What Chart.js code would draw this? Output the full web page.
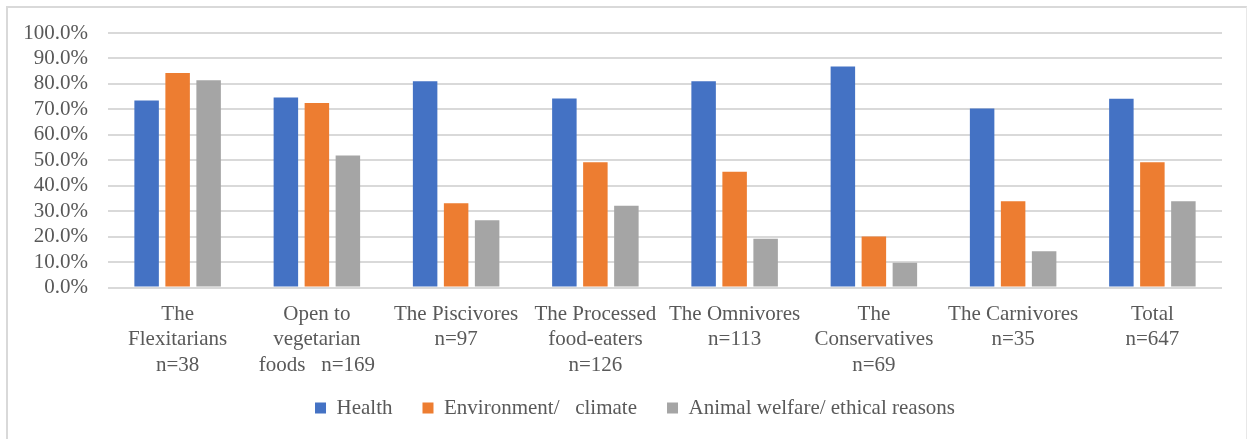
<!DOCTYPE html>
<html>
<head>
<meta charset="utf-8">
<title>Reasons by segment</title>
<script src="https://cdn.jsdelivr.net/npm/chart.js@4/dist/chart.umd.min.js"></script>
<style>
  html, body { margin: 0; padding: 0; background: #fff; }
  #wrap { position: relative; width: 1247px; height: 439px; overflow: hidden; }
  #frame {
    position: absolute; left: 6px; top: 6px; width: 1238px; height: 460px;
    border-left: 2px solid #d9d9d9; border-top: 2px solid #d9d9d9; border-right: 1px solid #e8e8e8;
  }
  #reasons-chart { position: absolute; left: 0; top: 0; }
</style>
</head>
<body>
<div id="wrap">
  <div id="frame"></div>
  <canvas id="reasons-chart" width="1247" height="439"></canvas>
</div>
<script>
// segments (multi-line labels)
var segments = [
    ['The', 'Flexitarians', 'n=38'],
    ['Open to', 'vegetarian', 'foods   n=169'],
    ['The Piscivores', 'n=97'],
    ['The Processed', 'food-eaters', 'n=126'],
    ['The Omnivores', 'n=113'],
    ['The', 'Conservatives', 'n=69'],
    ['The Carnivores', 'n=35'],
    ['Total', 'n=647']
];

var seriesNames = ['Health', 'Environment/   climate', 'Animal welfare/ ethical reasons'];

// share of respondents, %
var health = [73.5, 74.7, 81.0, 74.3, 81.0, 86.8, 70.3, 74.2];
var environment = [84.3, 72.5, 33.1, 49.2, 45.5, 20.0, 33.9, 49.2];
var animalWelfare = [81.4, 51.9, 26.4, 32.1, 19.2, 9.7, 14.2, 33.9];

var yTicks = [0, 10, 20, 30, 40, 50, 60, 70, 80, 90, 100];

var colors = ['#4472C4', '#ED7D31', '#A5A5A5'];

(function () {
    const textColor = '#595959';
    const serif = "'Liberation Serif', 'Times New Roman', serif";
    const ctx = document.getElementById('reasons-chart').getContext('2d');

    const dataInput = {
        labels: segments,
        datasets: [health, environment, animalWelfare].map(function (values, i) {
            return {
                label: seriesNames[i], data: values,
                backgroundColor: colors[i], borderColor: colors[i], borderWidth: 0,
                categoryPercentage: 0.668, barPercentage: 0.79
            };
        })
    };

    new Chart(ctx, {
        type: 'bar', data: dataInput, options: {
            responsive: false, animation: false,
            layout: {padding: {top: 33, right: 0, left: 23, bottom: 10.5}},
            scales: {
                x: {
                    grid: {display: false}, border: {display: false},
                    ticks: {
                        color: textColor, padding: 6.5, maxRotation: 0, autoSkip: false,
                        font: {family: serif, size: 21, lineHeight: 1.2}
                    },
                    afterFit: function (scale) { scale.height = 90.5; }
                },
                y: {
                    min: 0, max: 100,
                    border: {display: false},
                    grid: {color: '#d9d9d9', lineWidth: 2, drawTicks: false},
                    afterBuildTicks: function (scale) {
                        scale.ticks = yTicks.map(function (v) { return {value: v}; });
                    },
                    afterFit: function (scale) { scale.width = 85; },
                    ticks: {
                        color: textColor, padding: 20, autoSkip: false,
                        font: {family: serif, size: 21},
                        callback: function (v) { return Number(v).toFixed(1) + '%'; }
                    }
                },
                // empty strip on the right, keeps the plot off the frame edge
                yRight: {
                    position: 'right', display: true,
                    grid: {display: false}, border: {display: false}, ticks: {display: false},
                    afterFit: function (scale) { scale.width = 25; }
                }
            },
            plugins: {
                legend: {
                    position: 'bottom',
                    labels: {
                        color: textColor, boxWidth: 11, boxHeight: 11, padding: 19.5,
                        font: {family: serif, size: 21},
                        generateLabels: function (chart) {
                            const items = Chart.defaults.plugins.legend.labels.generateLabels(chart);
                            items.forEach(function (item, i) {
                                if (i < items.length - 1) item.text += '  ';
                            });
                            return items;
                        }
                    }
                },
                title: {display: false},
                tooltip: {enabled: false}
            }
        }
    });
})();
</script>
</body>
</html>
